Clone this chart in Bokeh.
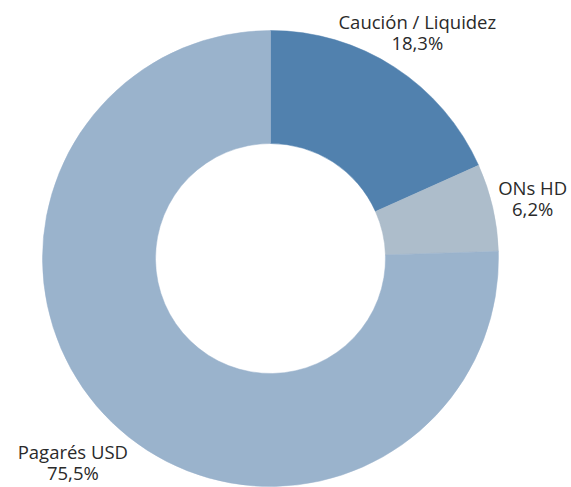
import math
from bokeh.plotting import figure
from bokeh.models import Range1d, ColumnDataSource
from bokeh.core.properties import value
from bokeh.embed import file_html
from bokeh.resources import INLINE

# Data
categories = ["Caución / Liquidez", "ONs HD", "Pagarés USD"]
shares = [18.3, 6.2, 75.5]
colors = ["#5181ae", "#adbdcb", "#9ab3cc"]

# Layout / style constants
W, H = 571, 487
CX, CY = 270, 229
R_OUT, R_IN = 228, 115
LABEL_R = [270, 269, 284]
FONT = "Open Sans"
FS = "18.5px"
LINE_GAP = 10.5

total = sum(shares)
starts, ends, mids = [], [], []
acc = 0.0
for s in shares:
    a0 = math.pi / 2 - acc / total * 2 * math.pi
    acc += s
    a1 = math.pi / 2 - acc / total * 2 * math.pi
    starts.append(a0)
    ends.append(a1)
    mids.append((a0 + a1) / 2)

src = ColumnDataSource(dict(cat=categories, start=starts, end=ends, color=colors))

p = figure(width=W, height=H, output_backend="svg", toolbar_location=None,
           x_range=Range1d(0, W), y_range=Range1d(0, H),
           x_axis_location=None, y_axis_location=None, min_border=0)
p.outline_line_color = None
p.grid.visible = False
p.background_fill_color = "white"

p.annular_wedge(x=CX, y=CY, inner_radius=R_IN, outer_radius=R_OUT,
                start_angle="start", end_angle="end", direction="clock",
                fill_color="color", line_color="color", line_width=0.5, source=src)

lx = [CX + r * math.cos(m) for r, m in zip(LABEL_R, mids)]
ly = [CY + r * math.sin(m) for r, m in zip(LABEL_R, mids)]
pct = [("%.1f%%" % s).replace(".", ",") for s in shares]

lab = ColumnDataSource(dict(x=lx, y1=[y + LINE_GAP for y in ly], y2=[y - LINE_GAP for y in ly],
                            name=categories, pct=pct))
p.text(x="x", y="y1", text="name", source=lab, text_align="center", text_baseline="middle",
       text_font=value(FONT), text_font_size=FS, text_color="#2a2a2a")
p.text(x="x", y="y2", text="pct", source=lab, text_align="center", text_baseline="middle",
       text_font=value(FONT), text_font_size=FS, text_color="#2a2a2a")

open("out.html", "w").write(file_html(p, INLINE))
